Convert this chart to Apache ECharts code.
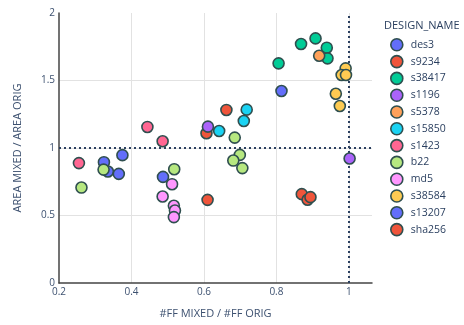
<!DOCTYPE html>
<html>
<head>
<meta charset="utf-8">
<script src="https://cdn.jsdelivr.net/npm/echarts@6/dist/echarts.min.js"></script>
<style>
  html, body { margin: 0; padding: 0; background: #fff; }
  #chart { width: 464px; height: 325px; }
</style>
</head>
<body>
<div id="chart"></div>
<script>
// Design names shown in the legend, in drawing order
const designNames = ['des3', 's9234', 's38417', 's1196', 's5378', 's15850',
                     's1423', 'b22', 'md5', 's38584', 's13207', 'sha256'];

// [#FF mixed / #FF orig, area mixed / area orig] per design
const des3    = [[0.324, 0.895], [0.335, 0.826], [0.365, 0.808], [0.375, 0.947]];
const s9234   = [[0.607, 1.109], [0.662, 1.282], [0.870, 0.658]];
const s38417  = [[0.806, 1.627], [0.868, 1.770], [0.908, 1.812], [0.939, 1.743], [0.941, 1.664]];
const s1196   = [[0.611, 1.158], [1.002, 0.922]];
const s5378   = [[0.918, 1.683]];
const s15850  = [[0.642, 1.126], [0.718, 1.284], [0.710, 1.200]];
const s1423   = [[0.255, 0.888], [0.444, 1.156], [0.486, 1.050]];
const b22     = [[0.262, 0.707], [0.323, 0.840], [0.518, 0.843], [0.685, 1.077],
                 [0.699, 0.949], [0.681, 0.907], [0.706, 0.851]];
const md5     = [[0.512, 0.732], [0.486, 0.641], [0.517, 0.572], [0.520, 0.537], [0.517, 0.488]];
const s38584  = [[0.991, 1.590], [0.980, 1.541], [0.992, 1.541], [0.964, 1.402], [0.975, 1.311]];
const s13207  = [[0.487, 0.786], [0.814, 1.422]];
const sha256  = [[0.610, 0.616], [0.886, 0.617], [0.894, 0.636]];

const seriesData = [des3, s9234, s38417, s1196, s5378, s15850,
                    s1423, b22, md5, s38584, s13207, sha256];

// Tick values for both axes
const xTicks = [0.2, 0.4, 0.6, 0.8, 1];
const yTicks = [0, 0.5, 1, 1.5, 2];
// Reference ratio = 1 on both axes
const refX = 1;
const refY = 1;

const palette = ['#636efa', '#EF553B', '#00cc96', '#ab63fa', '#FFA15A', '#19d3f3',
                 '#FF6692', '#B6E880', '#FF97FF', '#FECB52'];

const textColor = '#2a3f5f';
const labelColor = '#3d5170';
const fontFamily = '"Open Sans", "Liberation Sans", Arial, sans-serif';
const gridColor = '#e2e2e2';

const series = designNames.map((name, i) => ({
  name: name,
  type: 'scatter',
  data: seriesData[i],
  symbol: 'circle',
  symbolSize: 11,
  itemStyle: {
    color: palette[i % palette.length],
    borderColor: '#2f4f4f',
    borderWidth: 1.6,
    opacity: 1
  },
  emphasis: { disabled: true }
}));

// Dotted reference lines at ratio 1
series[0].markLine = {
  silent: true,
  symbol: ['none', 'none'],
  label: { show: false },
  lineStyle: { color: textColor, type: [2, 3], width: 2 },
  data: [{ yAxis: refY }, { xAxis: refX }],
  z: 1
};

const chart = echarts.init(document.getElementById('chart'), null, { renderer: 'canvas' });

chart.setOption({
  animation: false,
  backgroundColor: '#ffffff',
  textStyle: { fontFamily: fontFamily },
  title: {
    text: 'DESIGN_NAME',
    left: 379,
    top: 15,
    textStyle: { color: textColor, fontSize: 11, fontWeight: 'normal', fontFamily: fontFamily }
  },
  legend: {
    orient: 'vertical',
    left: 385,
    top: 33,
    itemWidth: 18,
    itemHeight: 12,
    itemGap: 3.2,
    icon: 'circle',
    itemStyle: { borderColor: '#2f4f4f', borderWidth: 1.6 },
    textStyle: { color: textColor, fontSize: 10.5, fontFamily: fontFamily },
    data: designNames
  },
  grid: { left: 59, top: 13, width: 313, height: 270, containLabel: false },
  xAxis: {
    type: 'value',
    min: xTicks[0],
    max: 1.0638,
    interval: 0.2,
    name: '#FF MIXED / #FF ORIG',
    nameLocation: 'middle',
    nameGap: 25,
    nameTextStyle: { color: labelColor, fontSize: 11, fontFamily: fontFamily },
    axisLine: { show: true, lineStyle: { color: '#444', width: 1.5 } },
    axisTick: { show: false },
    axisLabel: {
      color: labelColor, fontSize: 10, margin: 4, showMaxLabel: false,
      formatter: v => (xTicks.includes(+v.toFixed(3)) ? String(+v.toFixed(3)) : '')
    },
    splitLine: {
      show: true,
      lineStyle: { color: ['transparent', gridColor, gridColor, gridColor, gridColor, 'transparent'], width: 1 }
    }
  },
  yAxis: {
    type: 'value',
    min: yTicks[0],
    max: yTicks[yTicks.length - 1],
    interval: 0.5,
    name: 'AREA MIXED / AREA ORIG',
    nameLocation: 'middle',
    nameGap: 36,
    nameTextStyle: { color: labelColor, fontSize: 11, fontFamily: fontFamily },
    axisLine: { show: true, lineStyle: { color: '#444', width: 1.5 } },
    axisTick: { show: false },
    axisLabel: { color: labelColor, fontSize: 10, margin: 4 },
    splitLine: {
      show: true,
      lineStyle: { color: ['transparent', gridColor, gridColor, gridColor, 'transparent'], width: 1 }
    }
  },
  series: series
});
</script>
</body>
</html>
